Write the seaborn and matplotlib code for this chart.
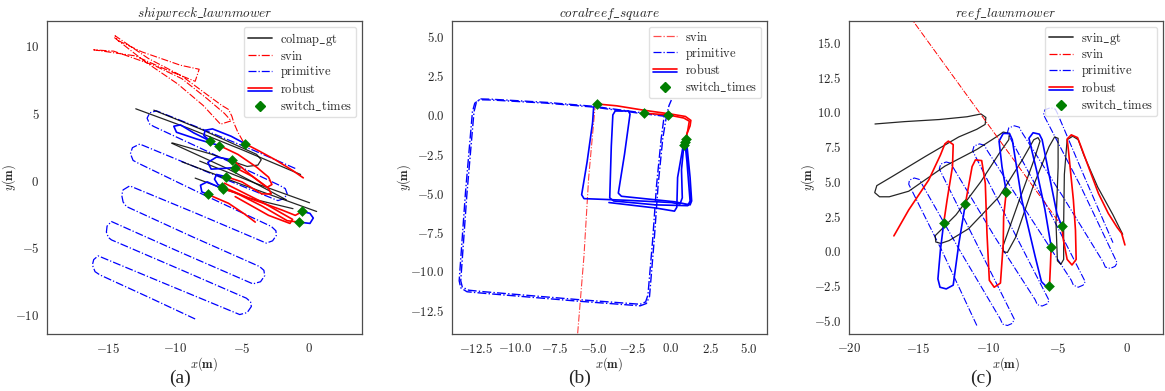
import numpy as np
import pandas as pd
import matplotlib
matplotlib.use("Agg")
import matplotlib.pyplot as plt
import seaborn as sns
from matplotlib.lines import Line2D
from matplotlib.legend_handler import HandlerBase
from matplotlib.ticker import MultipleLocator, FuncFormatter

# ---------------- Panel (a): shipwreck_lawnmower ----------------
a_primitive = [
    (-1.0, 0.9), (-4.0, 2.2), (-8.0, 3.85), (-11.4, 5.2), (-11.9, 5.05), (-12.1, 4.65), (-11.9, 4.2), (-11.6, 4.03),
    (-7.0, 1.9), (-2.2, -0.35), (-1.75, -0.6), (-1.6, -1.0), (-1.85, -1.35), (-2.3, -1.5),
    (-7.5, 0.6), (-12.65, 2.72), (-13.2, 2.45), (-13.35, 2.0), (-13.15, 1.5), (-12.78, 1.3),
    (-8.0, -1.0), (-2.79, -3.43), (-2.45, -3.75), (-2.42, -4.1), (-2.7, -4.5), (-3.17, -4.67),
    (-8.3, -2.5), (-13.4, -0.4), (-13.9, -0.7), (-14.0, -1.1), (-13.9, -1.6), (-13.65, -1.94),
    (-8.7, -4.2), (-3.67, -6.42), (-3.35, -6.7), (-3.29, -7.1), (-3.6, -7.55), (-4.17, -7.71),
    (-9.5, -5.4), (-14.77, -3.06), (-15.1, -3.4), (-15.15, -3.85), (-15.0, -4.25), (-14.77, -4.43),
    (-9.7, -6.6), (-4.66, -8.78), (-4.35, -9.05), (-4.29, -9.4), (-4.6, -9.85), (-5.16, -10.0),
    (-10.5, -7.8), (-15.77, -5.62), (-16.1, -5.9), (-16.2, -6.3), (-16.0, -6.8), (-15.64, -7.04),
    (-12.0, -8.7), (-8.5, -10.33)]
a_svin = [
    (-4.9, 2.9), (-5.3, 3.6), (-5.6, 4.3), (-5.75, 4.8), (-6.0, 5.3), (-6.5, 5.6), (-7.6, 6.4), (-9.5, 7.8),
    (-12.0, 9.1), (-14.5, 10.8), (-14.3, 10.45), (-12.5, 9.6), (-9.6, 8.6), (-8.2, 8.3), (-8.5, 7.4),
    (-10.5, 8.2), (-13.0, 9.3), (-16.1, 9.75), (-14.6, 9.65), (-11.6, 8.6), (-9.5, 7.6), (-7.6, 6.1),
    (-6.3, 5.0), (-5.8, 4.45), (-6.6, 4.2), (-7.9, 5.6), (-9.8, 7.2), (-12.3, 8.9), (-14.6, 10.7)]
a_gt = [
    [(-12.95, 5.35), (-9.0, 3.9), (-5.0, 2.3), (-0.6, 0.45)],
    [(-11.6, 5.25), (-8.0, 3.8), (-5.0, 2.45), (-3.9, 1.95), (-3.55, 1.55), (-3.8, 1.15), (-4.6, 1.05),
     (-7.4, 2.0), (-10.2, 2.8)],
    [(-10.27, 2.79), (-6.0, 0.85), (-1.67, -1.44)],
    [(-9.5, 1.4), (-5.0, -0.3), (0.6, -2.31)],
    [(-8.16, 1.45), (-4.0, -0.2), (0.07, -1.66)],
    [(-8.5, 0.18), (-4.5, -1.3), (-1.17, -2.1)],
]
a_robust = [
    ("red", [(-4.79, 2.76), (-3.8, 2.25), (-2.5, 1.55), (-1.2, 0.75), (-0.4, 0.2)]),
    ("blue", [(-4.79, 2.76), (-5.8, 3.3), (-7.2, 3.85), (-7.75, 3.75), (-7.85, 3.35), (-7.36, 2.94)]),
    ("blue", [(-7.36, 2.94), (-8.6, 3.55), (-9.6, 4.15), (-10.1, 4.05), (-9.9, 3.6), (-8.4, 3.1), (-6.69, 2.61)]),
    ("red", [(-6.69, 2.61), (-5.3, 1.95), (-3.9, 1.0), (-3.0, 0.25), (-2.75, -0.3), (-3.1, -0.5), (-4.2, 0.3), (-5.71, 1.54)]),
    ("blue", [(-5.71, 1.54), (-6.9, 1.75), (-7.55, 1.35), (-7.3, 0.85), (-6.4, 0.9), (-5.51, 0.97)]),
    ("red", [(-5.51, 0.97), (-4.2, 0.3), (-3.0, -0.6), (-2.8, -1.0), (-3.5, -1.0), (-5.0, -0.1), (-6.16, 0.28)]),
    ("blue", [(-6.16, 0.28), (-6.9, 0.45), (-7.05, 0.1), (-6.8, -0.3), (-6.49, -0.45)]),
    ("red", [(-6.49, -0.45), (-4.5, -1.3), (-2.0, -2.2), (-1.0, -2.6), (-0.47, -2.31)]),
    ("red", [(-6.3, -0.2), (-3.5, -1.6), (-1.2, -2.9), (-1.4, -3.2), (-3.0, -2.6), (-5.5, -1.2)]),
    ("blue", [(-0.47, -2.31), (0.1, -2.45), (0.35, -2.8), (0.1, -3.2), (-0.75, -3.1)]),
    ("red", [(-0.75, -3.1), (-1.6, -3.0), (-3.5, -1.9), (-5.5, -0.9), (-6.45, -0.62)]),
    ("blue", [(-6.45, -0.62), (-7.6, -0.1), (-8.1, -0.35), (-8.0, -0.85), (-7.54, -1.04)]),
    ("red", [(-7.54, -1.04), (-6.0, -1.7), (-4.8, -2.5), (-4.0, -3.1)]),
]
a_switch_x = [-7.36, -6.69, -4.79, -5.71, -5.51, -6.16, -6.49, -6.45, -7.54, -0.47, -0.75]
a_switch_y = [2.94, 2.61, 2.76, 1.54, 0.97, 0.28, -0.45, -0.62, -1.04, -2.31, -3.1]

# ---------------- Panel (b): coralreef_square ----------------
b_primitive = [
    [(-0.3, -0.1), (-2.0, 0.1), (-5.0, 0.5), (-8.0, 0.75), (-11.5, 0.95), (-12.3, 0.97), (-12.6, 0.75),
     (-12.75, 0.2), (-13.2, -5.0), (-13.6, -10.6), (-13.5, -11.05), (-13.1, -11.3), (-12.0, -11.4),
     (-6.0, -11.9), (-2.0, -12.2), (-1.6, -12.05), (-1.4, -11.6), (-1.1, -8.0), (-0.85, -4.5),
     (-0.55, -1.5), (-0.3, 0.0), (-0.15, 0.6), (0.0, 0.95)],
    [(-0.4, -0.05), (-2.0, 0.15), (-5.0, 0.55), (-8.0, 0.8), (-11.5, 1.0), (-12.25, 1.02), (-12.5, 0.8),
     (-12.65, 0.2), (-13.1, -5.0), (-13.5, -10.6), (-13.4, -11.0), (-13.0, -11.2), (-12.0, -11.3),
     (-6.0, -11.8), (-2.0, -12.1), (-1.65, -11.95), (-1.5, -11.5), (-1.2, -8.0), (-0.95, -4.5),
     (-0.65, -1.5), (-0.45, 0.0)],
]
b_svin = [(-4.87, 0.75), (-5.3, -4.0), (-5.6, -9.0), (-6.05, -14.5)]
b_robust = [
    ("blue", [(-4.77, 0.70), (-4.98, 0.5), (-5.05, -0.5), (-5.4, -3.0), (-5.75, -5.1), (-5.6, -5.35),
              (-3.0, -5.45), (0.0, -5.6), (0.55, -5.7), (0.7, -5.3), (0.65, -3.5), (0.8, -1.95)]),
    ("blue", [(0.87, -1.75), (1.0, -3.0), (1.2, -5.5), (1.05, -5.8), (-1.0, -5.75), (-3.7, -5.5),
              (-3.95, -5.3), (-3.85, -2.0), (-3.75, 0.0), (-3.6, 0.25), (-2.75, 0.25), (-2.65, 0.05),
              (-3.0, -2.5), (-3.4, -5.0), (-3.2, -5.2), (0.2, -5.55), (1.2, -5.75), (1.3, -5.5),
              (1.2, -4.0), (0.96, -1.55)]),
    ("blue", [(-4.0, -5.6), (-1.0, -5.95), (0.2, -6.15), (0.35, -5.9), (0.4, -4.0), (0.75, -2.0)]),
    ("red", [(-4.77, 0.70), (-3.5, 0.58), (-1.77, 0.3), (0.0, 0.05), (0.9, -0.1), (1.25, -0.35),
             (1.2, -0.7), (1.0, -1.2), (0.96, -1.55)]),
    ("red", [(-1.77, 0.11), (-0.21, 0.0), (0.8, -0.2), (1.15, -0.4), (1.05, -1.0), (0.87, -1.75)]),
]
b_switch_x = [-4.77, -1.77, -0.21, 0.96, 0.87, 0.80]
b_switch_y = [0.70, 0.11, 0.0, -1.55, -1.75, -1.95]

# ---------------- Panel (c): reef_lawnmower ----------------
c_gt = [
    (-18.13, 9.13), (-16.0, 9.3), (-13.5, 9.45), (-11.5, 9.65), (-10.5, 9.85), (-10.15, 9.6), (-10.2, 9.1),
    (-10.8, 8.75), (-12.1, 8.2), (-14.5, 6.8), (-16.9, 5.35), (-18.0, 4.7), (-18.15, 4.2), (-17.8, 3.9),
    (-17.1, 3.9), (-15.7, 4.3), (-13.1, 6.1), (-10.8, 7.3), (-9.4, 8.2), (-8.9, 8.55), (-8.45, 8.45),
    (-8.5, 8.0), (-9.2, 7.0), (-10.5, 5.0), (-12.3, 2.6), (-13.8, 1.1), (-13.75, 0.65), (-13.4, 0.55),
    (-12.8, 0.75), (-11.4, 1.6), (-9.2, 3.9), (-7.5, 6.6), (-6.7, 8.0), (-6.4, 8.15), (-6.25, 7.9),
    (-6.7, 6.5), (-7.8, 3.5), (-8.9, 0.4), (-8.9, -0.05), (-8.6, -0.1), (-8.0, 1.0), (-6.8, 4.5),
    (-5.6, 7.5), (-5.2, 8.2), (-4.95, 8.1), (-4.95, 6.0), (-5.1, 2.0), (-5.0, -0.7), (-4.75, -0.95),
    (-4.55, -0.6), (-4.55, 2.0), (-4.5, 5.5), (-4.3, 8.0), (-3.9, 8.25), (-3.5, 8.0), (-3.1, 6.9),
    (-2.1, 4.6), (-1.0, 2.6), (-0.3, 1.2)]
c_svin = [(-16.6, 18.2), (-4.69, 1.8)]
c_primitive = [
    (-10.8, -5.35), (-13.3, 0.0), (-15.7, 4.8), (-15.65, 5.1), (-15.3, 5.25), (-14.95, 5.15), (-14.8, 4.9),
    (-12.0, 0.0), (-9.1, -4.9), (-8.95, -5.25), (-8.6, -5.35), (-8.25, -5.2), (-8.1, -4.9),
    (-10.8, 0.5), (-13.5, 5.9), (-13.4, 6.25), (-13.0, 6.4), (-12.65, 6.3), (-12.5, 6.0),
    (-9.5, 1.0), (-6.6, -3.5), (-6.45, -3.85), (-6.1, -3.95), (-5.75, -3.8), (-5.6, -3.55),
    (-8.4, 1.9), (-11.1, 7.2), (-11.0, 7.55), (-10.6, 7.7), (-10.25, 7.6), (-10.1, 7.3),
    (-7.0, 2.5), (-4.0, -2.1), (-3.85, -2.45), (-3.5, -2.6), (-3.15, -2.45), (-3.0, -2.2),
    (-5.8, 3.3), (-8.6, 8.5), (-8.5, 8.85), (-8.1, 9.0), (-7.75, 8.9), (-7.6, 8.6),
    (-4.6, 3.9), (-1.7, -0.8), (-1.55, -1.15), (-1.2, -1.25), (-0.85, -1.1), (-0.7, -0.85),
    (-3.3, 4.6), (-6.0, 9.8), (-5.9, 10.15), (-5.5, 10.3), (-5.15, 10.2), (-5.0, 9.9),
    (-3.0, 5.2), (-1.0, 0.6)]
c_robust = [
    ("red", [(-16.77, 1.09), (-15.7, 2.96), (-14.26, 5.11), (-13.42, 6.9), (-13.1, 7.7), (-12.85, 7.9),
             (-12.5, 7.65), (-12.55, 6.07), (-12.94, 3.67), (-13.18, 2.04)]),
    ("blue", [(-13.18, 2.04), (-13.42, 0.08), (-13.6, -2.0), (-13.45, -2.6), (-13.0, -2.72), (-12.5, -2.45),
              (-12.1, 0.5), (-11.63, 3.36)]),
    ("red", [(-11.63, 3.36), (-11.14, 6.07), (-10.9, 6.55), (-10.45, 6.5), (-10.19, 4.87), (-10.07, 1.28),
             (-9.9, -2.1), (-9.55, -2.6), (-9.1, -2.3), (-8.9, 0.5), (-8.87, 2.47), (-8.68, 4.27)]),
    ("blue", [(-8.68, 4.27), (-8.99, 6.07), (-9.2, 7.9), (-8.9, 8.45), (-8.45, 8.45), (-8.25, 8.0),
              (-7.56, 3.67), (-6.6, -0.4), (-6.15, -2.2), (-5.85, -2.5), (-5.57, -2.51)]),
    ("red", [(-5.57, -2.51), (-5.5, -1.0), (-5.45, 0.32)]),
    ("blue", [(-5.45, 0.32), (-5.9, 3.0), (-6.5, 5.8), (-7.05, 8.1), (-6.75, 8.5), (-6.3, 8.4),
              (-6.1, 8.0), (-5.04, 2.71), (-4.69, 1.8)]),
    ("red", [(-4.69, 1.8), (-4.57, 0.8), (-4.3, -0.6), (-3.95, -1.0), (-3.65, -0.6), (-3.7, 1.5),
             (-3.85, 3.67), (-4.21, 7.27), (-4.3, 8.05), (-4.0, 8.35), (-3.55, 8.15), (-3.3, 7.5),
             (-2.77, 6.07), (-2.05, 4.15), (-1.34, 2.71), (-0.7, 1.7), (-0.38, 1.28), (-0.14, 0.44)]),
]
c_switch_x = [-13.18, -11.63, -8.68, -4.69, -5.45, -5.57]
c_switch_y = [2.04, 3.36, 4.27, 1.8, 0.32, -2.51]

titles = [r"$shipwreck\_lawnmower$", r"$coralreef\_square$", r"$reef\_lawnmower$"]
captions = ["(a)", "(b)", "(c)"]

# ---------------- style ----------------
sns.set_style("white")
plt.rcParams["font.family"] = ["DejaVu Serif"]
plt.rcParams["mathtext.fontset"] = "cm"

RED, BLUE, GREEN = "#ff0000", "#0000ff", "#007f00"


def traj(ax, pts, color, lw, ls="-", alpha=1.0, z=2):
    df = pd.DataFrame(pts, columns=["x", "y"])
    sns.lineplot(data=df, x="x", y="y", sort=False, estimator=None, ax=ax,
                 color=color, lw=lw, linestyle=ls, alpha=alpha, zorder=z)


def switches(ax, xs, ys):
    sns.scatterplot(x=xs, y=ys, ax=ax, marker="D", color=GREEN, s=30,
                    edgecolor=GREEN, linewidth=0, zorder=6)


class HandlerDouble(HandlerBase):
    def create_artists(self, legend, orig_handle, xdescent, ydescent, width,
                       height, fontsize, trans):
        y1 = -ydescent + height * 0.62
        y2 = -ydescent + height * 0.30
        l1 = Line2D([-xdescent, -xdescent + width], [y1, y1], color=RED, lw=1.2, transform=trans)
        l2 = Line2D([-xdescent, -xdescent + width], [y2, y2], color=BLUE, lw=1.2, transform=trans)
        return [l1, l2]


fig = plt.figure(figsize=(11.65, 3.91), dpi=100)
W, H = 1165.0, 391.0
axA = fig.add_axes([47 / W, 1 - 334 / H, 315 / W, 313 / H])
axB = fig.add_axes([452 / W, 1 - 334 / H, 315 / W, 313 / H])
axC = fig.add_axes([849 / W, 1 - 334 / H, 314 / W, 313 / H])

# panel a
traj(axA, a_primitive, BLUE, 0.9, "-.", z=1)
for s in a_gt:
    traj(axA, s, "k", 0.9, "-", alpha=0.85, z=2)
traj(axA, a_svin, RED, 0.8, "-.", z=3)
for c, pts in a_robust:
    traj(axA, pts, RED if c == "red" else BLUE, 1.2, "-", z=4)
switches(axA, a_switch_x, a_switch_y)

# panel b
for s in b_primitive:
    traj(axB, s, BLUE, 1.0, "-.", z=1)
traj(axB, b_svin, RED, 0.8, "-.", alpha=0.75, z=3)
for c, pts in b_robust:
    traj(axB, pts, RED if c == "red" else BLUE, 1.2, "-", z=4 if c == "blue" else 5)
switches(axB, b_switch_x, b_switch_y)

# panel c
traj(axC, c_primitive, BLUE, 0.8, "-.", z=1)
traj(axC, c_gt, "k", 0.9, "-", alpha=0.85, z=2)
traj(axC, c_svin, RED, 0.7, "-.", z=3)
for c, pts in c_robust:
    traj(axC, pts, RED if c == "red" else BLUE, 1.2, "-", z=4)
switches(axC, c_switch_x, c_switch_y)

axA.set_xlim(-19.6, 4.0); axA.set_ylim(-11.45, 11.9)
axB.set_xlim(-14.06, 6.13); axB.set_ylim(-14.0, 6.0)
axC.set_xlim(-20.0, 2.6); axC.set_ylim(-5.96, 16.53)

fmt_int = FuncFormatter(lambda v, p: r"$%g$" % v)
fmt_one = FuncFormatter(lambda v, p: r"$%.1f$" % v)
axA.xaxis.set_major_locator(MultipleLocator(5)); axA.yaxis.set_major_locator(MultipleLocator(5))
axA.xaxis.set_major_formatter(fmt_int); axA.yaxis.set_major_formatter(fmt_int)
axB.xaxis.set_major_locator(MultipleLocator(2.5)); axB.yaxis.set_major_locator(MultipleLocator(2.5))
axB.xaxis.set_major_formatter(fmt_one); axB.yaxis.set_major_formatter(fmt_one)
axC.xaxis.set_major_locator(MultipleLocator(5)); axC.yaxis.set_major_locator(MultipleLocator(2.5))
axC.xaxis.set_major_formatter(fmt_int); axC.yaxis.set_major_formatter(fmt_one)

robust_proxy = Line2D([], [])
def mk(label):
    return r"$\mathrm{%s}$" % label.replace("_", r"\_")

legends = [
    [(Line2D([], [], color="k", lw=1.3, alpha=0.75), "colmap_gt"),
     (Line2D([], [], color=RED, lw=0.9, ls="-."), "svin"),
     (Line2D([], [], color=BLUE, lw=0.9, ls="-."), "primitive"),
     (robust_proxy, "robust"),
     (Line2D([], [], color=GREEN, marker="D", ls="none", markersize=5.5), "switch_times")],
    [(Line2D([], [], color=RED, lw=0.9, ls="-.", alpha=0.7), "svin"),
     (Line2D([], [], color=BLUE, lw=0.9, ls="-."), "primitive"),
     (robust_proxy, "robust"),
     (Line2D([], [], color=GREEN, marker="D", ls="none", markersize=5.5), "switch_times")],
    [(Line2D([], [], color="k", lw=1.3, alpha=0.75), "svin_gt"),
     (Line2D([], [], color=RED, lw=0.9, ls="-."), "svin"),
     (Line2D([], [], color=BLUE, lw=0.9, ls="-."), "primitive"),
     (robust_proxy, "robust"),
     (Line2D([], [], color=GREEN, marker="D", ls="none", markersize=5.5), "switch_times")],
]

cap_x = [180, 580, 981]
ylab_x = [-0.092, -0.124, -0.102]
for ax, title, leg, cap, cx, yx in zip([axA, axB, axC], titles, legends, captions, cap_x, ylab_x):
    ax.set_title(title, fontsize=9.5, pad=3)
    ax.set_xlabel(r"$x\mathbf{(m)}$", fontsize=9)
    ax.set_ylabel(r"$y\mathbf{(m)}$", fontsize=9)
    ax.xaxis.set_label_coords(0.5, -0.068)
    ax.yaxis.set_label_coords(yx, 0.5)
    ax.tick_params(labelsize=9.2, pad=2, colors="0.15")
    for sp in ax.spines.values():
        sp.set_color("0.3")
        sp.set_linewidth(0.9)
    handles = [h for h, _ in leg]
    labels = [mk(l) for _, l in leg]
    lg = ax.legend(handles, labels, loc="upper right", fontsize=9.0, frameon=True,
                   handler_map={robust_proxy: HandlerDouble()},
                   handlelength=1.9, handletextpad=0.7, labelspacing=0.15,
                   borderpad=0.32, borderaxespad=0.45, fancybox=True)
    lg.get_frame().set_edgecolor("0.85")
    fig.text(cx / W, 1 - 378 / H, cap, ha="center", va="center",
             fontsize=14, family="Liberation Serif")

fig.savefig("out.png", dpi=100)
